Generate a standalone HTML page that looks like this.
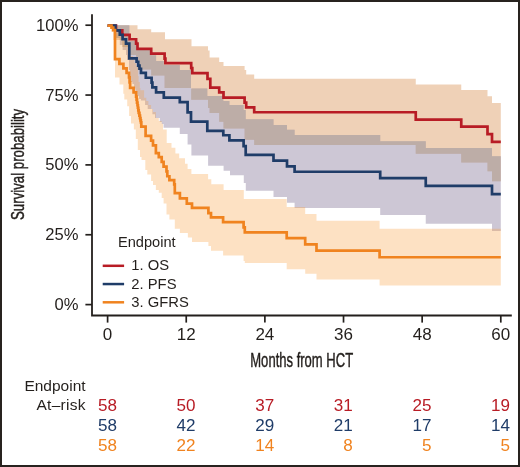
<!DOCTYPE html>
<html><head><meta charset="utf-8"><style>
html,body{margin:0;padding:0;background:#fff;}
#c{position:relative;width:520px;height:467px;overflow:hidden;background:#fff;}
svg{position:absolute;left:0;top:0;will-change:transform;}
text{font-family:"Liberation Sans",sans-serif;}
</style></head><body><div id="c">
<svg width="520" height="467" viewBox="0 0 520 467">

<defs><clipPath id="osc"><path d="M107.6,25.2H137.5V29.2H151.2V32.3H165V39.2H191.5V46.3H208V50.5H209.6V57.5H219.2V62.1H223.5V66H244.6V70H246.2V74.6H254.2V78.8H415.75V84.5H461.25V90H487.5V96.3H492V103H500.8V181.25H492V171.25H487.5V162.5H461.25V153.75H415.75V145.1H254.2V139.8H244.6V128.6H223.5V121.8H219.2V113H209.6V108H208V99.8H191.2V88H164.6V75.5H151.2V69.5H137.5V62H136.1V55H129.6V47H122.3V40H116V25.2H107.6Z"/></clipPath></defs>
<path d="M107.6,25.2H137.5V29.2H151.2V32.3H165V39.2H191.5V46.3H208V50.5H209.6V57.5H219.2V62.1H223.5V66H244.6V70H246.2V74.6H254.2V78.8H415.75V84.5H461.25V90H487.5V96.3H492V103H500.8V181.25H492V171.25H487.5V162.5H461.25V153.75H415.75V145.1H254.2V139.8H244.6V128.6H223.5V121.8H219.2V113H209.6V108H208V99.8H191.2V88H164.6V75.5H151.2V69.5H137.5V62H136.1V55H129.6V47H122.3V40H116V25.2H107.6Z" fill="#ca6612" fill-opacity="0.3"/>
<path d="M107.6,25.2H129.3V41H137.4V50H151.6V55.3H156.1V61H163.8V65H179.8V70.1H191V88.5H207.3V96H223.3V101H229.4V105H243.6V110H245.7V119.2H273.5V125.1H287V129.8H294.6V135.1H380.2V141.3H425.75V148H492V156.25H500.8V231H492V223.75H425.75V215H380.2V207.9H294.6V202.7H287V197.1H273.5V190.8H245.8V183H243.8V175.3H230V170.8H223.6V165.7H208.1V155.4H191.4V144.5H187.6V134H179.8V127.8H163.6V124H161.7V122H159.8V118H155V114.3H152.4V109H147.7V104.9H145.1V100.6H140.9V99H139.1V96H137.1V92H135.4V88.6H134.1V84H132.4V82H131V77H130V70H129V60H127V55H126V50H122.6V45H119.8V38H115.4V25.2H107.6Z" fill="#685580" fill-opacity="0.33"/>
<path d="M107.6,25.2H129.3V41H137.4V50H151.6V55.3H156.1V61H163.8V65H179.8V70.1H191V88.5H207.3V96H223.3V101H229.4V105H243.6V110H245.7V119.2H273.5V125.1H287V129.8H294.6V135.1H380.2V141.3H425.75V148H492V156.25H500.8V231H492V223.75H425.75V215H380.2V207.9H294.6V202.7H287V197.1H273.5V190.8H245.8V183H243.8V175.3H230V170.8H223.6V165.7H208.1V155.4H191.4V144.5H187.6V134H179.8V127.8H163.6V124H161.7V122H159.8V118H155V114.3H152.4V109H147.7V104.9H145.1V100.6H140.9V99H139.1V96H137.1V92H135.4V88.6H134.1V84H132.4V82H131V77H130V70H129V60H127V55H126V50H122.6V45H119.8V38H115.4V25.2H107.6Z" clip-path="url(#osc)" fill="#b8b1aa" fill-opacity="0.5"/>
<path d="M107.6,25.2H113.2V27H115V33H118.6V35H120.2V37H122.7V40H124.4V42H126.5V45H128.1V48H129.1V52H130.2V56H132.9V60H134.5V63H136.1V66H137.5V69H138.1V76H138.6V82H139.8V88H140.4V90.3H144.1V97.8H146.3V101H148.4V105H151.1V109H153V112H155.9V118H158.8V121H161.7V123.7H163V129.4H166.7V142.9H171.5V147.7H175.4V153.5H179.2V158.3H185V163.8H187.6V168.9H191.4V174.1H208.1V179.2H211.3V184.3H223.6V190.1H243.8V199H286.7V207H305.2V214H316.5V220.8H379.6V228.7H500.8V285.5H379.6V279.4H316.5V273.8H305.2V269.2H286.7V263H244.8V261H243.6V255.4H223.1V250.8H211V246.1H208.4V242.1H192V237.5H187.9V232.9H179.9V228.8H174.8V219.6H169.4V214.5H166.5V203.6H163.6V198H161.7V192.7H158.8V190H155.9V185H153V181H151.1V174.5H147.3V170H145.3V160H141.5V157H140V150H137.8V139H135.8V129.4H133.9V123.6H131V115.9H129.1V106.2H127.2V99.5H124.3V93.7H123.3V84.5H119.5V77.5H115V40H113.2V32H111.5V25.2H107.6Z" fill="#f89b37" fill-opacity="0.3"/>
<path d="M107.6,25.55H116V30.35H122.3V34.85H129.6V39.25H136.1V43.65H137.5V48.85H151.2V53.65H164.6V58.55H165.4V63.15H191.2V68.15H192.3V73.15H207.5V78.85H210.3V87.65H219.2V92.35H223.5V97.55H244.6V102.55H246.2V107.35H254.2V112.25H415.75V119.55H461.25V126.65H487.5V134.15H492V141.95H500.8" fill="none" stroke="#b81c25" stroke-width="2.7" stroke-linejoin="miter" stroke-linecap="butt"/>
<path d="M107.6,25.55H115.4V30.35H119.8V34.75H122.6V39.25H126V43.55H129.3V58.35H136.6V61.75H138.2V65.55H139.5V68.75H141V72.95H145.8V77.75H151.6V82.55H152.4V87.35H156.1V92.45H163.8V97.65H179.8V102.15H187.6V112.45H191V121.55H207.3V130.85H223.3V135.25H229.4V140.35H243.6V146.05H245.7V154.95H273.5V160.55H287V166.35H294.6V171.75H380.2V178.15H425.75V185.85H492V194.10H500.8" fill="none" stroke="#1f3c68" stroke-width="2.7" stroke-linejoin="miter" stroke-linecap="butt"/>
<path d="M107.6,25.55H111.5V27.65H113.2V30.05H115V59.05H119.4V63.95H123.4V68.45H126.6V72.95H129V77.35H129.6V82.35H130.1V87.85H133.6V92.35H136.1V96.65H136.6V99.65H137V102.65H137.5V105.25H137.9V107.75H138.3V110.35H138.7V112.95H139.4V115.55H140V118.05H140.5V120.35H140.9V122.35H141.3V126.65H145.6V135.85H151.1V140.65H153V145.45H155.9V153.15H158.8V157.05H161.7V161.85H163.6V166.65H166.5V171.35H167.3V176.25H169.4V180.15H174.2V184.35H174.8V193.15H179.9V198.35H186.8V203.55H192V207.85H208.4V213.05H211V217.35H223.1V222.05H243.6V227.35H244.8V232.35H286.7V238.15H305.2V244.35H316.5V250.55H379.6V257.25H500.8" fill="none" stroke="#f0831f" stroke-width="2.7" stroke-linejoin="miter" stroke-linecap="butt"/>
<path d="M92,14.2V315.5H511.8" fill="none" stroke="#231f1c" stroke-width="1.8"/>
<path d="M85.4,25.20H92" stroke="#231f1c" stroke-width="1.7"/>
<text transform="translate(78.4,30.75) scale(1.03,1)" font-size="16.1" fill="#231f1c" text-anchor="end">100%</text>
<path d="M85.4,95.05H92" stroke="#231f1c" stroke-width="1.7"/>
<text transform="translate(78.4,100.60) scale(1.03,1)" font-size="16.1" fill="#231f1c" text-anchor="end">75%</text>
<path d="M85.4,164.90H92" stroke="#231f1c" stroke-width="1.7"/>
<text transform="translate(78.4,170.45) scale(1.03,1)" font-size="16.1" fill="#231f1c" text-anchor="end">50%</text>
<path d="M85.4,234.75H92" stroke="#231f1c" stroke-width="1.7"/>
<text transform="translate(78.4,240.30) scale(1.03,1)" font-size="16.1" fill="#231f1c" text-anchor="end">25%</text>
<path d="M85.4,304.60H92" stroke="#231f1c" stroke-width="1.7"/>
<text transform="translate(78.4,310.15) scale(1.03,1)" font-size="16.1" fill="#231f1c" text-anchor="end">0%</text>
<path d="M107.60,315.5V322.6" stroke="#231f1c" stroke-width="1.7"/>
<text x="107.60" y="340" font-size="17" fill="#231f1c" text-anchor="middle">0</text>
<path d="M186.24,315.5V322.6" stroke="#231f1c" stroke-width="1.7"/>
<text x="186.24" y="340" font-size="17" fill="#231f1c" text-anchor="middle">12</text>
<path d="M264.88,315.5V322.6" stroke="#231f1c" stroke-width="1.7"/>
<text x="264.88" y="340" font-size="17" fill="#231f1c" text-anchor="middle">24</text>
<path d="M343.52,315.5V322.6" stroke="#231f1c" stroke-width="1.7"/>
<text x="343.52" y="340" font-size="17" fill="#231f1c" text-anchor="middle">36</text>
<path d="M422.16,315.5V322.6" stroke="#231f1c" stroke-width="1.7"/>
<text x="422.16" y="340" font-size="17" fill="#231f1c" text-anchor="middle">48</text>
<path d="M500.80,315.5V322.6" stroke="#231f1c" stroke-width="1.7"/>
<text x="500.80" y="340" font-size="17" fill="#231f1c" text-anchor="middle">60</text>
<text transform="translate(301.7,366.8) scale(0.643,1)" font-size="20.3" fill="#231f1c" stroke="#231f1c" stroke-width="0.45" text-anchor="middle">Months from HCT</text>
<text transform="translate(24.1,164.4) rotate(-90) scale(0.69,1)" font-size="19.2" fill="#231f1c" stroke="#231f1c" stroke-width="0.45" text-anchor="middle">Survival probability</text>
<text x="118" y="246.9" font-size="14.6" fill="#231f1c">Endpoint</text>
<path d="M102.7,265.80H124.1" stroke="#b81c25" stroke-width="2.5"/>
<text x="131.3" y="270.40" font-size="14.8" fill="#231f1c">1. OS</text>
<path d="M102.7,284.05H124.1" stroke="#1f3c68" stroke-width="2.5"/>
<text x="131.3" y="288.65" font-size="14.8" fill="#231f1c">2. PFS</text>
<path d="M102.7,302.30H124.1" stroke="#f0831f" stroke-width="2.5"/>
<text x="131.3" y="306.90" font-size="14.8" fill="#231f1c">3. GFRS</text>
<text x="85.6" y="390.9" font-size="15.5" fill="#231f1c" text-anchor="end">Endpoint</text>
<text x="85.9" y="409.7" font-size="15.5" letter-spacing="0.3" fill="#231f1c" text-anchor="end">At–risk</text>
<text transform="translate(116.90,411.30) scale(1.08,1)" font-size="15.8" fill="#b81c25" text-anchor="end">58</text>
<text transform="translate(195.54,411.30) scale(1.08,1)" font-size="15.8" fill="#b81c25" text-anchor="end">50</text>
<text transform="translate(274.18,411.30) scale(1.08,1)" font-size="15.8" fill="#b81c25" text-anchor="end">37</text>
<text transform="translate(352.82,411.30) scale(1.08,1)" font-size="15.8" fill="#b81c25" text-anchor="end">31</text>
<text transform="translate(431.46,411.30) scale(1.08,1)" font-size="15.8" fill="#b81c25" text-anchor="end">25</text>
<text transform="translate(510.10,411.30) scale(1.08,1)" font-size="15.8" fill="#b81c25" text-anchor="end">19</text>
<text transform="translate(116.90,430.90) scale(1.08,1)" font-size="15.8" fill="#1f3c68" text-anchor="end">58</text>
<text transform="translate(195.54,430.90) scale(1.08,1)" font-size="15.8" fill="#1f3c68" text-anchor="end">42</text>
<text transform="translate(274.18,430.90) scale(1.08,1)" font-size="15.8" fill="#1f3c68" text-anchor="end">29</text>
<text transform="translate(352.82,430.90) scale(1.08,1)" font-size="15.8" fill="#1f3c68" text-anchor="end">21</text>
<text transform="translate(431.46,430.90) scale(1.08,1)" font-size="15.8" fill="#1f3c68" text-anchor="end">17</text>
<text transform="translate(510.10,430.90) scale(1.08,1)" font-size="15.8" fill="#1f3c68" text-anchor="end">14</text>
<text transform="translate(116.90,450.50) scale(1.08,1)" font-size="15.8" fill="#f0831f" text-anchor="end">58</text>
<text transform="translate(195.54,450.50) scale(1.08,1)" font-size="15.8" fill="#f0831f" text-anchor="end">22</text>
<text transform="translate(274.18,450.50) scale(1.08,1)" font-size="15.8" fill="#f0831f" text-anchor="end">14</text>
<text transform="translate(352.82,450.50) scale(1.08,1)" font-size="15.8" fill="#f0831f" text-anchor="end">8</text>
<text transform="translate(431.46,450.50) scale(1.08,1)" font-size="15.8" fill="#f0831f" text-anchor="end">5</text>
<text transform="translate(510.10,450.50) scale(1.08,1)" font-size="15.8" fill="#f0831f" text-anchor="end">5</text>
</svg>
<div style="position:absolute;left:0;top:0;width:520px;height:467px;box-sizing:border-box;border:2px solid #28231f;border-bottom-width:2.5px;"></div>
</div></body></html>
